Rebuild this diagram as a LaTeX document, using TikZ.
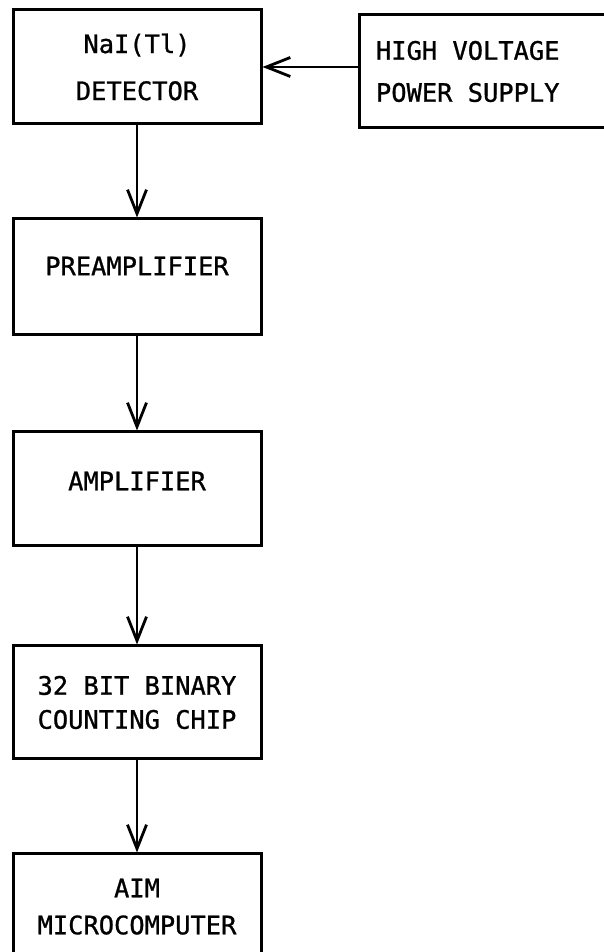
\documentclass[tikz,border=0pt]{standalone}
\usepackage{fontspec}
\setmonofont[FakeBold=1]{DejaVu Sans Mono}
\usetikzlibrary{positioning}
\usetikzlibrary{arrows.meta}

\begin{document}
\begin{tikzpicture}[x=1pt, y=1pt, >={Straight Barb[length=24pt, width=19pt]}, blk/.style={draw, line width=3pt, rectangle, minimum width=248pt, inner sep=0pt, align=center, font=\ttfamily\fontsize{25.4}{34}\selectfont}, link/.style={->, line width=2.8pt}]
        \useasboundingbox (0,0) rectangle (603,952);

        \node[blk, minimum height=114pt] (det) at (137,885) {NaI(Tl)\\[13pt]DETECTOR};
        \node[blk, minimum height=113pt, minimum width=265pt, text width=231pt, inner xsep=17pt, align=flush left] (hv) [right=95pt of det, yshift=-4.5pt] {\mbox{HIGH VOLTAGE}\\[8pt]\mbox{POWER SUPPLY}};

        \node[blk, minimum height=116pt, text depth=22pt] (pre) [below=92pt of det] {PREAMPLIFIER};
        \node[blk, minimum height=114pt, text depth=16pt] (amp) [below=94pt of pre] {AMPLIFIER};
        \node[blk, minimum height=113pt] (cnt) [below=97pt of amp] {32 BIT BINARY\\COUNTING CHIP};
        \node[blk, minimum height=130pt, text depth=25pt] (aim) [below=92pt of cnt] {AIM\\[3pt]MICROCOMPUTER}; % runs off the bottom

        \draw[link] (hv.west |- det.east) -- (det.east);
        \draw[link] (det) -- (pre);
        \draw[link] (pre) -- (amp);
        \draw[link] (amp) -- (cnt);
        \draw[link] (cnt) -- (aim);
    \end{tikzpicture}
\end{document}
